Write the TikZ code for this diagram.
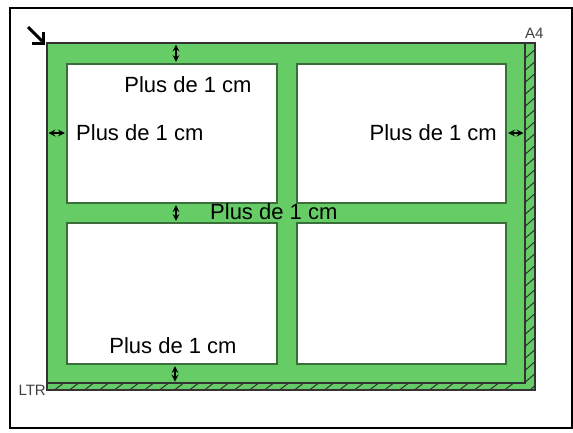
\documentclass[tikz,border=0pt]{standalone}
\usepackage{fontspec}
\setmainfont{Liberation Sans}
\usepackage{xcolor}
\usepackage{tikz}
\usetikzlibrary{arrows, positioning, calc}

\definecolor{sheetgreen}{RGB}{102,204,102}
\definecolor{edgegreen}{RGB}{60,110,60}

\begin{document}
\begin{tikzpicture}[x=1pt, y=-1pt, >=stealth, line join=miter]
  \tikzstyle{photo} = [rectangle, draw=edgegreen, line width=1.2pt, fill=white, inner sep=0pt]
  \tikzstyle{gap} = [<->, line width=2pt, shorten >=1.5pt, shorten <=1.5pt]
  \tikzstyle{lbl} = [font=\fontsize{22}{24}\selectfont, inner sep=0pt]
  \tikzstyle{tag} = [font=\fontsize{15}{17}\selectfont, text=black!75, inner sep=0pt]

  \useasboundingbox (0,0) rectangle (573,432);
  \draw[line width=2pt] (10,8) rectangle (571.5,428);

  % paper sizes: A4 (wider) and LTR (taller)
  \fill[sheetgreen] (47,43) rectangle (535,390);
  \begin{scope}
    \clip (525,43) rectangle (535,390);
    \foreach \y in {50,62,...,386}
      \draw[line width=1pt, black!80] (525.5,\y+8) -- (534.5,\y);
  \end{scope}
  \begin{scope}
    \clip (47,383) rectangle (535,390);
    \foreach \x in {55,70,...,515}
      \draw[line width=1pt, black!80] (\x,389.5) -- (\x+8,383.5);
  \end{scope}
  \draw[line width=1.2pt, black!80] (47,43) -- (535,43) -- (535,390) -- (47,390) -- cycle;
  \draw[line width=1.2pt, black!80] (47,43) rectangle (525,383);

  % corner mark and labels
  \draw[line width=3pt, line cap=butt] (28,27) -- (42,41);
  \draw[line width=3pt] (43,32) -- (43,43) -- (32,43);
  \node[tag, anchor=south west] (A4) at (525,39) {A4};
  \node[tag, anchor=east] (LTR) at (46,390) {LTR};

  % photos
  \node[photo, minimum width=210pt, minimum height=139pt] (TL) at (172,133.5) {};
  \node[photo, minimum width=209pt, minimum height=139pt] (TR) at (401.5,133.5) {};
  \node[photo, minimum width=210pt, minimum height=141pt] (BL) at (172,293.5) {};
  \node[photo, minimum width=209pt, minimum height=141pt] (BR) at (401.5,293.5) {};

  % margins
  \coordinate (gTop) at (176,43);
  \coordinate (gMid) at (176,213);
  \coordinate (gBot) at (175,383);
  \coordinate (gLeft) at (47,133);
  \coordinate (gRight) at (525,133);

  \draw[gap] (gTop) -- (TL.north -| gTop);
  \draw[gap] (TL.south -| gMid) -- (BL.north -| gMid);
  \draw[gap] (BL.south -| gBot) -- (gBot);
  \draw[gap] (gLeft) -- (TL.west |- gLeft);
  \draw[gap] (TR.east |- gRight) -- (gRight);

  \node[lbl] (tTop) at (188,85) {Plus de 1 cm};
  \node[lbl, anchor=west] (tLeft) at (76,133) {Plus de 1 cm};
  \node[lbl, anchor=east] (tRight) at (497,133) {Plus de 1 cm};
  \node[lbl, anchor=west] (tMid) at (210,212) {Plus de 1 cm};
  \node[lbl] (tBot) at (173,346) {Plus de 1 cm};
\end{tikzpicture}
\end{document}
